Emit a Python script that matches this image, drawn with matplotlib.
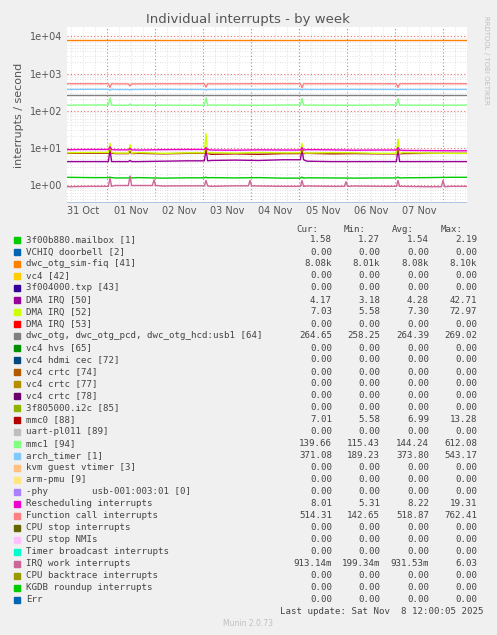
import numpy as np
import matplotlib
matplotlib.use("Agg")
import matplotlib.pyplot as plt
from matplotlib.ticker import LogLocator, NullFormatter, FixedLocator

W, H = 497, 635

# hours since 31 Oct 00:00
base_t = [-20, -8, 4, 16, 28, 40, 52, 64, 76, 88, 100, 112, 124, 136, 148, 160, 172, 182]
spike_t = [1.5, 11.5, 49.5, 97.5, 145.5]

fiq_base = [8080] * 18
fiq_spk = [8080] * 5
func_base = [530, 530, 525, 525, 528, 530, 525, 528, 530, 532, 528, 530, 530, 528, 530, 532, 530, 530]
func_spk = [420, 460, 430, 410, 420]
arch_base = [372, 375, 370, 372, 374, 372, 370, 373, 372, 375, 371, 372, 374, 372, 371, 373, 372, 372]
arch_spk = [350, 360, 355, 360, 360]
usb_base = [264] * 18
usb_spk = [264] * 5
mmc1_base = [140, 141, 139, 140, 140, 139, 141, 140, 139, 141, 140, 140, 139, 141, 140, 140, 140, 140]
mmc1_spk = [220, 150, 220, 210, 210]
dma52_base = [7.2, 7.4, 7.1, 7.3, 7.0, 7.2, 7.3, 7.1, 7.4, 7.2, 7.1, 7.3, 7.2, 7.0, 7.3, 7.1, 7.0, 7.0]
dma52_spk = [13, 12, 24, 13, 17]
resch_base = [8.8, 8.9, 8.7, 8.6, 8.8, 8.9, 8.6, 8.5, 8.7, 8.6, 8.8, 8.7, 8.5, 8.6, 8.4, 8.3, 8.2, 8.2]
resch_spk = [10.5, 9.5, 10, 10, 10]
mmc0_base = [7.0, 7.1, 6.9, 7.0, 6.8, 7.0, 6.6, 6.8, 6.6, 6.9, 7.0, 6.8, 6.9, 6.8, 6.9, 7.0, 7.0, 7.0]
mmc0_spk = [9, 8, 9, 9, 9]
dma50_base = [4.2, 4.2, 4.2, 4.2, 4.3, 4.4, 4.5, 4.6, 4.5, 4.7, 4.3, 4.2, 4.2, 4.2, 4.2, 4.2, 4.2, 4.2]
dma50_spk = [9, 4.5, 9, 9, 9]
mbox_base = [1.58, 1.55, 1.52, 1.55, 1.50, 1.53, 1.55, 1.52, 1.55, 1.50, 1.53, 1.52, 1.50, 1.52, 1.53, 1.55, 1.58, 1.58]
mbox_spk = [1.6, 1.6, 1.6, 1.6, 1.6]
irqw_base = [0.88, 0.9, 0.95, 0.95, 0.92, 0.93, 0.9, 0.93, 0.92, 0.9, 0.92, 0.9, 0.92, 0.9, 0.9, 0.88, 0.9, 0.9]
irqw_spk = [1.5, 1.7, 1.3, 1.3, 1.3]
irqw_bump_t = [23.5, 71.5, 119.5, 168.0]
irqw_bump = [1.35, 1.3, 1.2, 1.3]

day_labels = ["31 Oct", "01 Nov", "02 Nov", "03 Nov", "04 Nov", "05 Nov", "06 Nov", "07 Nov"]

names = ["3f00b880.mailbox [1]", "VCHIQ doorbell [2]", "dwc_otg_sim-fiq [41]", "vc4 [42]",
         "3f004000.txp [43]", "DMA IRQ [50]", "DMA IRQ [52]", "DMA IRQ [53]",
         "dwc_otg, dwc_otg_pcd, dwc_otg_hcd:usb1 [64]", "vc4 hvs [65]", "vc4 hdmi cec [72]",
         "vc4 crtc [74]", "vc4 crtc [77]", "vc4 crtc [78]", "3f805000.i2c [85]", "mmc0 [88]",
         "uart-pl011 [89]", "mmc1 [94]", "arch_timer [1]", "kvm guest vtimer [3]", "arm-pmu [9]",
         "-phy        usb-001:003:01 [0]", "Rescheduling interrupts", "Function call interrupts",
         "CPU stop interrupts", "CPU stop NMIs", "Timer broadcast interrupts", "IRQ work interrupts",
         "CPU backtrace interrupts", "KGDB roundup interrupts", "Err"]
colors = ["#00CC00", "#0066B3", "#FF8000", "#FFCC00", "#330099", "#990099", "#CCFF00", "#FF0000",
          "#808080", "#008F00", "#00487D", "#B35A00", "#B38F00", "#6B006B", "#8FB300", "#B30000",
          "#BEBEBE", "#80FF80", "#80C9FF", "#FFC080", "#FFE680", "#AA80FF", "#EE00CC", "#FF8080",
          "#666600", "#FFBFFF", "#00FFCC", "#CC6699", "#999900", "#00CC00", "#0066B3"]
cur = ["1.58", "0.00", "8.08k", "0.00", "0.00", "4.17", "7.03", "0.00", "264.65", "0.00", "0.00",
       "0.00", "0.00", "0.00", "0.00", "7.01", "0.00", "139.66", "371.08", "0.00", "0.00", "0.00",
       "8.01", "514.31", "0.00", "0.00", "0.00", "913.14m", "0.00", "0.00", "0.00"]
mins = ["1.27", "0.00", "8.01k", "0.00", "0.00", "3.18", "5.58", "0.00", "258.25", "0.00", "0.00",
        "0.00", "0.00", "0.00", "0.00", "5.58", "0.00", "115.43", "189.23", "0.00", "0.00", "0.00",
        "5.31", "142.65", "0.00", "0.00", "0.00", "199.34m", "0.00", "0.00", "0.00"]
avgs = ["1.54", "0.00", "8.08k", "0.00", "0.00", "4.28", "7.30", "0.00", "264.39", "0.00", "0.00",
        "0.00", "0.00", "0.00", "0.00", "6.99", "0.00", "144.24", "373.80", "0.00", "0.00", "0.00",
        "8.22", "518.87", "0.00", "0.00", "0.00", "931.53m", "0.00", "0.00", "0.00"]
maxs = ["2.19", "0.00", "8.10k", "0.00", "0.00", "42.71", "72.97", "0.00", "269.02", "0.00", "0.00",
        "0.00", "0.00", "0.00", "0.00", "13.28", "0.00", "612.08", "543.17", "0.00", "0.00", "0.00",
        "19.31", "762.41", "0.00", "0.00", "0.00", "6.03", "0.00", "0.00", "0.00"]


def build(base, spk, extra_t=(), extra_v=()):
    # baseline samples plus narrow spikes (shoulders at the neighbouring level)
    pts = list(zip(base_t, base))
    for t, v in list(zip(spike_t, spk)) + list(zip(extra_t, extra_v)):
        lvl = base[np.searchsorted(base_t, t) - 1]
        pts += [(t - 0.8, lvl), (t, v), (t + 0.8, lvl)]
    pts.sort()
    return [p[0] for p in pts], [p[1] for p in pts]


fig = plt.figure(figsize=(W / 100, H / 100), dpi=100, facecolor="#F0F0F0")
ax = fig.add_axes([67 / W, 1 - 203 / H, 400 / W, 176 / H], facecolor="white")
ax.set_yscale("log")
ax.set_xlim(-20, 180)
ax.set_ylim(0.32, 1.8e4)

series = [
    (mbox_base, mbox_spk, 0), (dma50_base, dma50_spk, 5), (mmc0_base, mmc0_spk, 15),
    (dma52_base, dma52_spk, 6), (resch_base, resch_spk, 22), (mmc1_base, mmc1_spk, 17),
    (usb_base, usb_spk, 8), (arch_base, arch_spk, 18), (func_base, func_spk, 23),
    (fiq_base, fiq_spk, 2),
]
for b, s, ci in series:
    x, y = build(b, s)
    ax.plot(x, y, color=colors[ci], lw=1.0, zorder=3)
x, y = build(irqw_base, irqw_spk, irqw_bump_t, irqw_bump)
ax.plot(x, y, color=colors[27], lw=1.0, zorder=3)

# grid
ax.set_yticks([1, 10, 100, 1000, 10000])
ax.set_yticklabels(["1e+00", "1e+01", "1e+02", "1e+03", "1e+04"])
ax.yaxis.set_minor_locator(LogLocator(base=10, subs=np.arange(2, 10), numticks=20))
ax.yaxis.set_minor_formatter(NullFormatter())
ax.xaxis.set_major_locator(FixedLocator([24 * i for i in range(8)]))
ax.xaxis.set_minor_locator(FixedLocator([6 * i for i in range(-3, 31) if i % 4]))
ax.set_xticklabels([])
ax.grid(True, which="minor", color="#D8D8D8", ls=(0, (1, 2)), lw=0.6, zorder=1)
ax.grid(True, which="major", color="#F07070", ls=(0, (1, 2)), lw=0.8, zorder=2)
for i, lab in enumerate(day_labels):
    ax.text(24 * i - 12, 0.26, lab, ha="center", va="top", fontsize=7, color="#555555")
ax.tick_params(axis="both", which="both", length=0, labelsize=7, colors="#555555")
for sp in ax.spines.values():
    sp.set_visible(False)
ax.axhline(0.32, color="#A0B8E0", lw=1.2)

ax.set_ylabel("interrupts / second", fontsize=8, color="#555555")
fig.text(248 / W, 1 - 19 / H, "Individual interrupts - by week", ha="center", va="center",
         fontsize=9.5, color="#555555")
fig.text(486 / W, 1 - 60 / H, "RRDTOOL / TOBI OETIKER", rotation=270, ha="center", va="center",
         fontsize=5, color="#C0C0C0")

mono = "DejaVu Sans Mono"
fs = 6.6
y0 = 229
for xx, lab in zip([318, 366, 414, 463], ["Cur:", "Min:", "Avg:", "Max:"]):
    fig.text(xx / W, 1 - y0 / H, lab, ha="right", va="center", fontsize=fs, family=mono, color="#444444")
for i, n in enumerate(names):
    yy = 1 - (240 + i * 12.0) / H
    fig.patches.append(plt.Rectangle((14 / W, yy - 3 / H), 6 / W, 6 / H, color=colors[i],
                                     transform=fig.transFigure))
    fig.text(26 / W, yy, n, va="center", fontsize=fs, family=mono, color="#444444")
    for xx, v in zip([332, 380, 429, 477], [cur[i], mins[i], avgs[i], maxs[i]]):
        fig.text(xx / W, yy, v, ha="right", va="center", fontsize=fs, family=mono, color="#444444")
fig.text(483 / W, 1 - 611 / H, "Last update: Sat Nov  8 12:00:05 2025", ha="right", va="center",
         fontsize=fs, family=mono, color="#444444")
fig.text(248 / W, 1 - 624 / H, "Munin 2.0.73", ha="center", va="center", fontsize=5.5, color="#C0C0C0")

fig.savefig("out.png", dpi=100, facecolor=fig.get_facecolor())
